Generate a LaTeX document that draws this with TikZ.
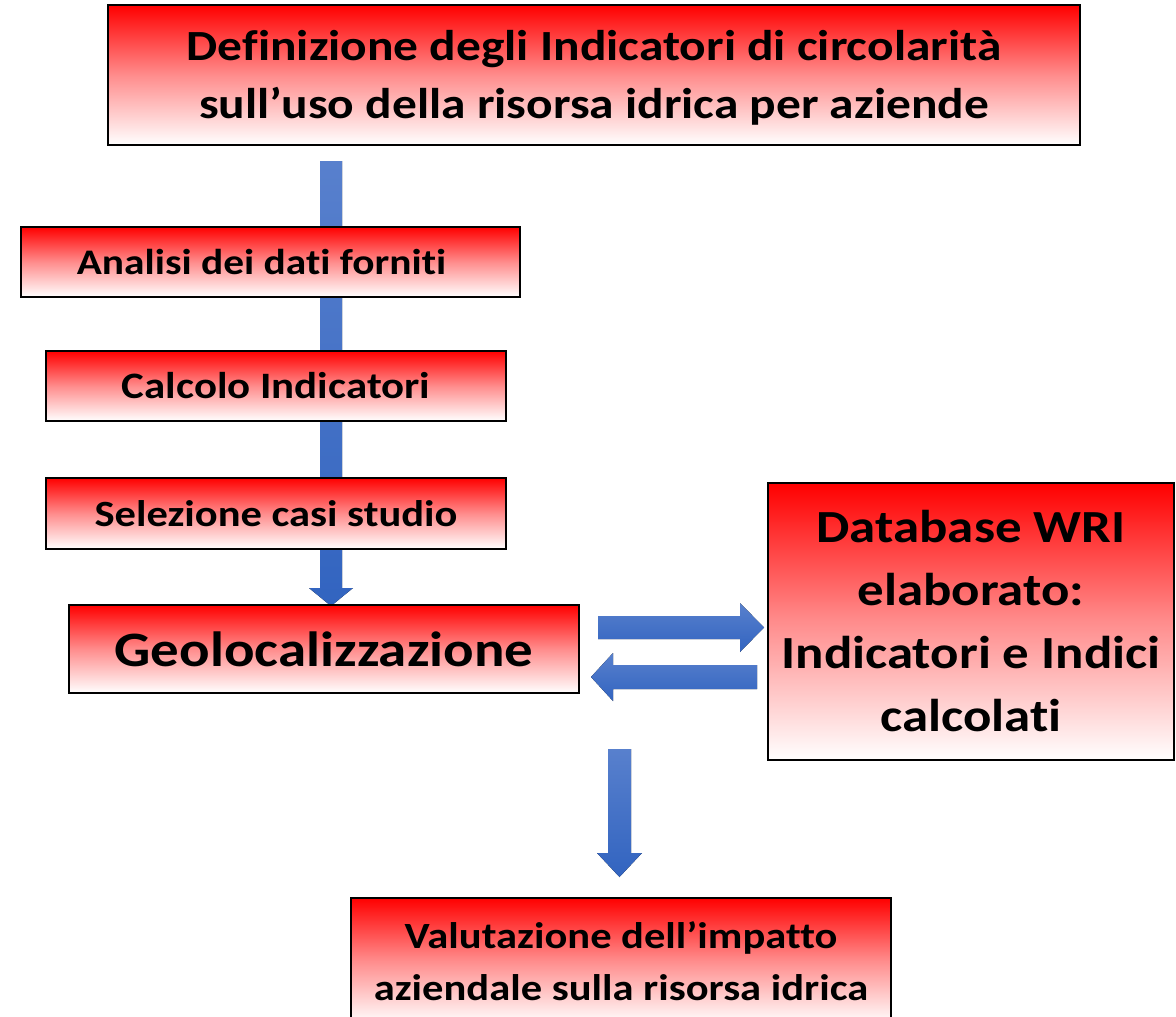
\documentclass[tikz,border=0pt]{standalone}
\usepackage{fontspec}
\setmainfont{Carlito}[FakeStretch=1.15,Ligatures=NoCommon]
\begin{document}
\begin{tikzpicture}[x=1pt,y=-1pt,
  box/.style={draw=black,line width=1.6pt,top color=red,bottom color=white,middle color=red!45,
    inner sep=0pt,align=center,font=\bfseries},
  blk/.style={top color=arrowtop,bottom color=arrowbot,draw=none}]
\definecolor{arrowtop}{RGB}{88,128,205}
\definecolor{arrowbot}{RGB}{50,100,192}
\useasboundingbox (0,0) rectangle (1176,1017);
% main vertical arrow (behind boxes)
\fill[blk] (320,161) -- (342,161) -- (342,588) -- (353,588) -- (331,606) -- (309,588) -- (320,588) -- cycle;
% boxes
\node[box,minimum width=972pt,minimum height=140pt,font=\bfseries\fontsize{43}{58}\selectfont] (top) at (594,75)
  {\rule{0pt}{36pt}Definizione degli Indicatori di circolarità\\sull’uso della risorsa idrica per aziende};
\node[box,minimum width=499pt,minimum height=70pt,font=\bfseries\fontsize{36}{38}\selectfont] (analisi) at (270.5,262) {Analisi dei dati forniti\hspace*{18pt}};
\node[box,minimum width=460pt,minimum height=70pt,font=\bfseries\fontsize{37.3}{39}\selectfont] (calcolo) at (276,386) {Calcolo Indicatori};
\node[box,minimum width=460pt,minimum height=71pt,font=\bfseries\fontsize{37}{39}\selectfont] (selezione) at (276,513.5) {Selezione casi studio};
\node[box,minimum width=510pt,minimum height=88pt,font=\bfseries\fontsize{49.5}{56}\selectfont] (geo) at (324,649) {Geolocalizzazione};
\node[box,minimum width=406pt,minimum height=277pt,font=\bfseries\fontsize{46}{63}\selectfont] (db) at (971,621.5)
  {Database WRI\\elaborato:\\Indicatori e Indici\\calcolati};
\node[box,minimum width=540pt,minimum height=126pt,font=\bfseries\fontsize{37}{52}\selectfont,anchor=north] (val) at (621,897)
  {Valutazione dell’impatto\\aziendale sulla risorsa idrica};
% horizontal arrows
\fill[blk] (598,616) -- (740,616) -- (740,603) -- (764,627.5) -- (740,652) -- (740,639) -- (598,639) -- cycle;
\fill[blk] (757,665) -- (613,665) -- (613,653) -- (591,677) -- (613,701) -- (613,689) -- (757,689) -- cycle;
% bottom arrow
\fill[blk] (608,749) -- (631,749) -- (631,853) -- (642,853) -- (619.5,877) -- (597,853) -- (608,853) -- cycle;
\end{tikzpicture}
\end{document}
